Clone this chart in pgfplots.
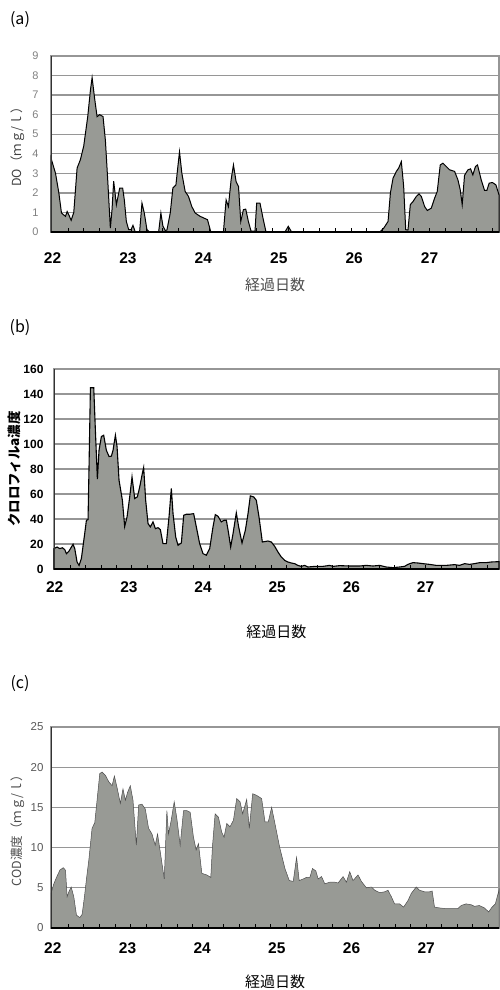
\documentclass[border=0pt]{standalone}
\usepackage{pgfplots}
\pgfplotsset{compat=1.18}
\usepackage{fontspec}
\setmainfont{Liberation Sans}
\newfontfamily\jp{Noto Sans CJK JP}
\definecolor{fillgray}{RGB}{152,154,149}
\definecolor{gridgray}{RGB}{150,150,150}
\pgfplotsset{
  panel/.style={
    scale only axis,
    anchor=south west,
    clip=false,
    /pgf/number format/assume math mode=true,
    ymajorgrids=true,
    major grid style={draw=gridgray, line width=1.3pt},
    axis line style={draw=gridgray, line width=1.2pt},
    xtick={22,23,24,25,26,27},
    xtick pos=bottom, ytick pos=left,
    major tick length=0pt,
    xticklabel style={anchor=center, font=\bfseries\fontsize{15.5}{16}\selectfont},
    xlabel={\jp 経過日数},
    xlabel style={anchor=center, font=\fontsize{15}{15}\selectfont},
    ylabel style={anchor=center},
  },
  tickover/.style={
    scale only axis,
    anchor=south west,
    axis x line=bottom,
    axis y line=none,
    x axis line style={-, draw=black, line width=1.6pt},
    xtick={22.2083333,22.4166667,22.625,22.8333333,23.0416667,23.25,23.4583333,23.6666667,23.875,24.0833333,24.2916667,24.5,24.7083333,24.9166667,25.125,25.3333333,25.5416667,25.75,25.9583333,26.1666667,26.375,26.5833333,26.7916667,27,27.2083333,27.4166667,27.625,27.8333333},
    xticklabels={}, ytick=\empty,
    tick align=inside,
    every tick/.style={draw=black, line width=1pt},
    major tick length=4.5pt,
  }
}
\begin{document}
\begin{tikzpicture}
\useasboundingbox (0pt,0pt) rectangle (500pt,-990pt);
\node[font=\jp\fontsize{16}{16}\selectfont] at (20pt,-20pt) {(a)};
\node[font=\jp\fontsize{16}{16}\selectfont] at (20pt,-328pt) {(b)};
\node[font=\jp\fontsize{16}{16}\selectfont] at (20pt,-684pt) {(c)};

% (a) DO
\begin{axis}[panel, at={(51pt,-232pt)}, width=448pt, height=176pt,
  xmin=21.98, xmax=27.92, ymin=0, ymax=9, ytick={0,1,...,9},
  yticklabel style={font=\fontsize{11}{11}\selectfont, text=black!50, xshift=-9pt},
  xticklabel style={yshift=-26pt},
  xlabel style={at={(rel axis cs:0.5,-0.301)}, text=black!70},
  ylabel={\jp DO（ｍｇ/ｌ）},
  ylabel style={at={(rel axis cs:-0.0737,0.5)}, font=\fontsize{12.5}{13}\selectfont, text=black!75}]
\addplot[fill=fillgray, draw=black, line width=1pt] coordinates {
(21.98,3.78) (22.04,3.0) (22.084,2.0) (22.119,0.97) (22.172,0.8) (22.194,1.05) (22.216,0.88) (22.247,0.6) (22.282,1.0) (22.326,3.27) (22.370,3.7) (22.414,4.4) (22.467,5.9) (22.503,7.26) (22.525,7.9) (22.556,6.9) (22.591,5.9) (22.626,6.0) (22.670,5.9) (22.701,4.7) (22.732,2.67) (22.767,0.2) (22.789,1.14) (22.811,2.6) (22.847,1.4) (22.891,2.25) (22.930,2.25) (22.952,1.65) (22.979,0.54) (23.010,0.12) (23.041,0.12) (23.067,0.34) (23.098,0) (23.155,0) (23.186,1.48) (23.217,0.97) (23.252,0.12) (23.287,0) (23.407,0) (23.437,0.97) (23.464,0.3) (23.495,0.08) (23.517,0.1) (23.561,0.97) (23.596,2.25) (23.636,2.4) (23.658,3.2) (23.684,4.1) (23.715,3.0) (23.759,2.07) (23.803,1.82) (23.847,1.3) (23.892,0.97) (23.958,0.8) (24.055,0.63) (24.099,0) (24.266,0) (24.302,1.65) (24.332,1.3) (24.368,2.67) (24.399,3.43) (24.434,2.58) (24.466,2.33) (24.496,0.54) (24.531,1.14) (24.562,1.17) (24.597,0.54) (24.632,0.05) (24.685,0.05) (24.707,1.48) (24.751,1.48) (24.795,0.63) (24.831,0) (25.082,0) (25.126,0.29) (25.170,0) (26.339,0) (26.392,0.2) (26.449,0.54) (26.480,2.0) (26.515,2.75) (26.559,3.1) (26.590,3.27) (26.625,3.6) (26.656,2.33) (26.683,0.12) (26.713,0.1) (26.744,1.4) (26.780,1.56) (26.824,1.82) (26.859,1.95) (26.890,1.82) (26.934,1.3) (26.969,1.1) (27.022,1.22) (27.066,1.73) (27.101,2.07) (27.141,3.43) (27.176,3.52) (27.220,3.35) (27.265,3.18) (27.331,3.1) (27.375,2.67) (27.406,2.16) (27.432,1.4) (27.463,2.9) (27.508,3.18) (27.543,3.23) (27.573,2.92) (27.608,3.35) (27.635,3.43) (27.684,2.67) (27.728,2.13) (27.759,2.13) (27.790,2.5) (27.834,2.53) (27.879,2.41) (27.92,1.9)
} \closedcycle;
\draw[black!80, line width=0.9pt] (rel axis cs:0,0) -- (rel axis cs:0,1);
\draw[black, line width=1.8pt] (rel axis cs:0,0) -- (rel axis cs:1,0);
\end{axis}
\begin{axis}[tickover, at={(51pt,-232pt)}, width=448pt, height=176pt,
  xmin=21.98, xmax=27.92, ymin=0, ymax=9]
\addplot[draw=none] coordinates {(22,0) (27,0)};
\end{axis}

% (b) chlorophyll
\begin{axis}[panel, at={(54pt,-569pt)}, width=445pt, height=200pt,
  xmin=21.99, xmax=27.99, ymin=0, ymax=160, ytick={0,20,...,160},
  yticklabel style={font=\bfseries\fontsize{12}{12}\selectfont, text=black, xshift=-7pt},
  xticklabel style={yshift=-18pt},
  xlabel style={at={(rel axis cs:0.5,-0.315)}},
  ylabel={\jp クロロフィルa濃度},
  ylabel style={at={(rel axis cs:-0.0899,0.5)}, font=\bfseries\fontsize{13.5}{14}\selectfont, text=black}]
\addplot[fill=fillgray, draw=black, line width=1.1pt] coordinates {
(21.99,16.3) (22.031,17.6) (22.067,16.3) (22.103,17) (22.135,15.5) (22.157,12.3) (22.193,14.4) (22.225,17.6) (22.247,19.8) (22.270,16.3) (22.301,5.6) (22.328,2.9) (22.359,8.3) (22.404,28.3) (22.427,39) (22.449,39.5) (22.463,84) (22.481,145) (22.526,145) (22.548,111) (22.575,72) (22.597,95) (22.629,106) (22.660,107) (22.696,95) (22.732,90) (22.764,90.3) (22.786,95) (22.818,107) (22.840,98) (22.867,71) (22.912,55) (22.943,34) (22.975,41.7) (23.011,57.7) (23.042,73.7) (23.078,56.4) (23.114,57.7) (23.146,65.7) (23.181,76.4) (23.199,81.2) (23.226,55) (23.258,36.3) (23.289,33.7) (23.325,37.7) (23.357,32.3) (23.393,33.1) (23.424,31.5) (23.460,20.3) (23.505,20.3) (23.541,41.7) (23.572,64.4) (23.595,44.3) (23.631,25.6) (23.662,19) (23.707,20.8) (23.739,43) (23.774,43.8) (23.819,43.8) (23.873,44.3) (23.909,33.7) (23.954,20.3) (23.999,12.3) (24.044,11) (24.089,16.3) (24.134,33.7) (24.165,43.5) (24.201,42.2) (24.246,37.7) (24.282,39) (24.314,39) (24.345,28.3) (24.372,17.6) (24.404,28.3) (24.448,44.9) (24.480,33.7) (24.525,20.8) (24.570,31) (24.606,44.3) (24.637,58.5) (24.682,57.7) (24.718,55) (24.754,41.7) (24.799,21.6) (24.875,22.4) (24.920,21.6) (24.965,18.2) (25.010,13.6) (25.055,9.6) (25.100,6.9) (25.145,5.6) (25.190,4.8) (25.234,4.3) (25.279,2.9) (25.324,2.1) (25.369,2.9) (25.414,1.6) (25.504,2.1) (25.616,2.1) (25.706,2.9) (25.751,2.1) (25.841,2.7) (25.976,2.4) (26.110,2.4) (26.200,2.9) (26.290,2.4) (26.380,2.9) (26.470,1.6) (26.560,1.1) (26.650,1.6) (26.717,2.1) (26.762,3.7) (26.829,5.1) (26.898,4.8) (26.964,4.3) (27.054,3.7) (27.144,2.9) (27.279,2.9) (27.391,3.5) (27.458,2.9) (27.526,4.3) (27.593,3.7) (27.660,4.3) (27.732,5.1) (27.817,5.1) (27.885,5.6) (27.99,5.9)
} \closedcycle;
\draw[black!80, line width=0.9pt] (rel axis cs:0,0) -- (rel axis cs:0,1);
\draw[black, line width=1.6pt] (rel axis cs:0,0) -- (rel axis cs:1,0);
\end{axis}
\begin{axis}[tickover, at={(54pt,-569pt)}, width=445pt, height=200pt,
  xmin=21.99, xmax=27.99, ymin=0, ymax=160]
\addplot[draw=none] coordinates {(22,0) (27,0)};
\end{axis}

% (c) COD
\begin{axis}[panel, at={(51pt,-928pt)}, width=448pt, height=201pt,
  xmin=21.975, xmax=27.975, ymin=0, ymax=25, ytick={0,5,...,25},
  yticklabel style={font=\fontsize{11.5}{12}\selectfont, text=black!65, xshift=-4pt},
  xticklabel style={yshift=-20pt},
  xlabel style={at={(rel axis cs:0.5,-0.269)}},
  ylabel={\jp COD濃度（ｍｇ/ｌ）},
  ylabel style={at={(rel axis cs:-0.0737,0.5)}, font=\fontsize{12.5}{13}\selectfont, text=black!70}]
\addplot[fill=fillgray, draw=black!70, line width=0.5pt] coordinates {
(21.975,4.3) (22.013,5.5) (22.049,6.3) (22.094,7.2) (22.138,7.5) (22.169,7.2) (22.191,3.9) (22.214,4.5) (22.245,5.1) (22.280,3.9) (22.316,1.6) (22.361,1.3) (22.392,1.7) (22.423,3.9) (22.450,6.1) (22.481,8.4) (22.525,12.4) (22.561,13.1) (22.592,15.9) (22.628,19.2) (22.659,19.4) (22.703,19.0) (22.748,18.2) (22.793,17.7) (22.824,18.9) (22.859,17.5) (22.904,15.5) (22.939,17.3) (22.971,15.9) (23.002,16.9) (23.037,17.7) (23.073,15.9) (23.118,10.3) (23.149,15.3) (23.193,15.4) (23.238,14.8) (23.282,12.4) (23.327,11.7) (23.371,10.3) (23.402,11.7) (23.438,9.5) (23.492,6.1) (23.527,14.6) (23.549,11.7) (23.585,13.4) (23.625,15.7) (23.661,13.6) (23.705,10.3) (23.750,14.6) (23.794,14.6) (23.839,14.4) (23.883,11.3) (23.919,9.7) (23.950,10.5) (23.995,6.8) (24.061,6.6) (24.115,6.3) (24.137,10.1) (24.173,14.2) (24.217,13.8) (24.262,11.9) (24.293,11.3) (24.329,13.0) (24.373,12.6) (24.418,13.4) (24.462,16.1) (24.507,15.7) (24.542,14.2) (24.596,16.0) (24.631,12.4) (24.676,16.7) (24.729,16.5) (24.796,16.1) (24.841,13.2) (24.885,13.2) (24.930,15.0) (24.974,13.0) (25.041,9.9) (25.108,7.4) (25.166,5.9) (25.219,5.8) (25.264,8.8) (25.299,5.9) (25.353,6.1) (25.397,6.3) (25.442,6.3) (25.477,7.4) (25.522,7.1) (25.553,6.1) (25.598,6.4) (25.642,5.5) (25.709,5.7) (25.776,5.7) (25.820,5.6) (25.887,6.4) (25.931,5.7) (25.976,7.0) (26.020,5.9) (26.087,6.6) (26.132,5.8) (26.199,5.0) (26.266,5.1) (26.310,4.7) (26.377,4.4) (26.443,4.5) (26.488,4.7) (26.533,3.9) (26.577,3.0) (26.644,3.0) (26.697,2.6) (26.755,3.4) (26.800,4.3) (26.866,5.1) (26.911,4.7) (26.978,4.5) (27.044,4.5) (27.080,4.6) (27.111,2.6) (27.178,2.5) (27.267,2.4) (27.334,2.4) (27.423,2.4) (27.468,2.8) (27.534,3.0) (27.601,2.9) (27.646,2.7) (27.712,2.8) (27.779,2.5) (27.837,2.0) (27.882,2.6) (27.926,3.0) (27.975,4.7)
} \closedcycle;
\draw[black!80, line width=0.9pt] (rel axis cs:0,0) -- (rel axis cs:0,1);
\draw[black!85, line width=1.4pt] (rel axis cs:0,0) -- (rel axis cs:1,0);
\end{axis}
\begin{axis}[tickover, at={(51pt,-928pt)}, width=448pt, height=201pt,
  xmin=21.975, xmax=27.975, ymin=0, ymax=25]
\addplot[draw=none] coordinates {(22,0) (27,0)};
\end{axis}
\end{tikzpicture}
\end{document}
